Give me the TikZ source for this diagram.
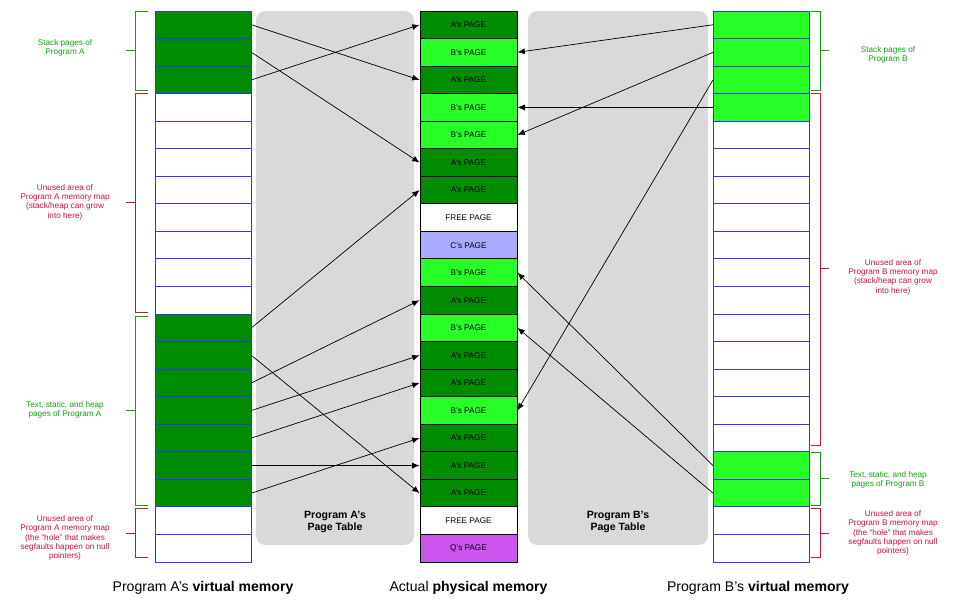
\documentclass[tikz,border=0pt]{standalone}
\usepackage{fontspec}
\setmainfont{Liberation Sans}
\usetikzlibrary{arrows.meta, positioning}
\definecolor{agreen}{HTML}{008C00}
\definecolor{bgreen}{HTML}{27FF27}
\definecolor{cpage}{HTML}{AAAAFF}
\definecolor{qpage}{HTML}{CC55EE}
\definecolor{vblue}{HTML}{3333FF}
\definecolor{lgreen}{HTML}{10A010}
\definecolor{lred}{HTML}{D0103C}

\begin{document}
\begin{tikzpicture}[
    x=0.03cm, y=-0.03cm,
    vrow/.style={rectangle, draw=vblue, thick, minimum width=2.88cm, minimum height=0.8265cm, inner sep=0pt},
    prow/.style={rectangle, draw=black, thick, minimum width=2.91cm, minimum height=0.8265cm, inner sep=0pt, font=\scriptsize},
    ptable/.style={fill=black!15, rounded corners=8pt},
    arrow/.style={-{Latex[length=2.2mm, width=1.8mm]}, semithick},
    note/.style={font=\scriptsize, align=center},
    title/.style={font=\large},
]
\useasboundingbox (0,0) rectangle (955,606);

% page tables
\fill[ptable] (256,11) rectangle (414,545);
\fill[ptable] (528,11) rectangle (708,545);
\node[font=\small\bfseries, align=center] (tA) at (335,522) {Program A's\\Page Table};
\node[font=\small\bfseries, align=center] (tB) at (618,522) {Program B's\\Page Table};

% virtual memory of A and B
\foreach \i in {0,...,19} {
  \pgfmathsetmacro{\yy}{11+27.55*\i+13.775}
  \ifnum\i<3 \def\fa{agreen}\else\ifnum\i>10 \ifnum\i<18 \def\fa{agreen}\else\def\fa{white}\fi\else\def\fa{white}\fi\fi
  \ifnum\i<4 \def\fb{bgreen}\else\ifnum\i>15 \ifnum\i<18 \def\fb{bgreen}\else\def\fb{white}\fi\else\def\fb{white}\fi\fi
  \node[vrow, fill=\fa] (a\i) at (203,\yy) {};
  \node[vrow, fill=\fb] (b\i) at (761.5,\yy) {};
}

% physical memory
\foreach \i/\t/\c in {0/A's PAGE/agreen, 1/B's PAGE/bgreen, 2/A's PAGE/agreen, 3/B's PAGE/bgreen,
    4/B's PAGE/bgreen, 5/A's PAGE/agreen, 6/A's PAGE/agreen, 7/FREE PAGE/white,
    8/C's PAGE/cpage, 9/B's PAGE/bgreen, 10/A's PAGE/agreen, 11/B's PAGE/bgreen,
    12/A's PAGE/agreen, 13/A's PAGE/agreen, 14/B's PAGE/bgreen, 15/A's PAGE/agreen,
    16/A's PAGE/agreen, 17/A's PAGE/agreen, 18/FREE PAGE/white, 19/Q's PAGE/qpage} {
  \pgfmathsetmacro{\yy}{11+27.55*\i+13.775}
  \node[prow, fill=\c] (p\i) at (468.5,\yy) {\t};
}

% mappings of A
\foreach \s/\d in {0/2, 1/5, 2/0, 11/6, 12/17, 13/10, 14/12, 15/13, 16/16, 17/15}
  \draw[arrow] (a\s.east) -- (p\d.west);
% mappings of B
\foreach \s/\d in {0/1, 1/4, 2/14, 3/3, 16/9, 17/11}
  \draw[arrow] (b\s.west) -- (p\d.east);

% brackets of A
\draw[lgreen] (148,11) -- (135,11) -- (135,90) -- (148,90) (135,50) -- (126,50);
\draw[lred] (148,93) -- (135,93) -- (135,312) -- (148,312) (135,202) -- (126,202);
\draw[lgreen] (148,316) -- (135,316) -- (135,505) -- (148,505) (135,410) -- (126,410);
\draw[lred] (148,508) -- (135,508) -- (135,557) -- (148,557) (135,533) -- (126,533);
\node[note, text=lgreen] (nA1) at (65,48) {Stack pages of\\Program A};
\node[note, text=lred] (nA2) at (65,202) {Unused area of\\Program A memory map\\(stack/heap can grow\\into here)};
\node[note, text=lgreen] (nA3) at (65,410) {Text, static, and heap\\pages of Program A};
\node[note, text=lred] (nA4) at (65,538) {Unused area of\\Program A memory map\\(the “hole” that makes\\segfaults happen on null\\pointers)};

% brackets of B
\draw[lgreen] (811,11) -- (820,11) -- (820,90) -- (811,90) (820,50) -- (829,50);
\draw[lred] (811,93) -- (820,93) -- (820,445) -- (811,445) (820,268) -- (829,268);
\draw[lgreen] (811,452) -- (820,452) -- (820,505) -- (811,505) (820,478) -- (829,478);
\draw[lred] (811,508) -- (820,508) -- (820,557) -- (811,557) (820,533) -- (829,533);
\node[note, text=lgreen] (nB1) at (888,55) {Stack pages of\\Program B};
\node[note, text=lred] (nB2) at (893,277) {Unused area of\\Program B memory map\\(stack/heap can grow\\into here)};
\node[note, text=lgreen] (nB3) at (888,480) {Text, static, and heap\\pages of Program B};
\node[note, text=lred] (nB4) at (893,533) {Unused area of\\Program B memory map\\(the “hole” that makes\\segfaults happen on null\\pointers)};

% captions
\node[title] (cA) at (203,588) {Program A's \textbf{virtual memory}};
\node[title] (cP) at (468.5,588) {Actual \textbf{physical memory}};
\node[title] (cB) at (758,588) {Program B's \textbf{virtual memory}};
\end{tikzpicture}
\end{document}
